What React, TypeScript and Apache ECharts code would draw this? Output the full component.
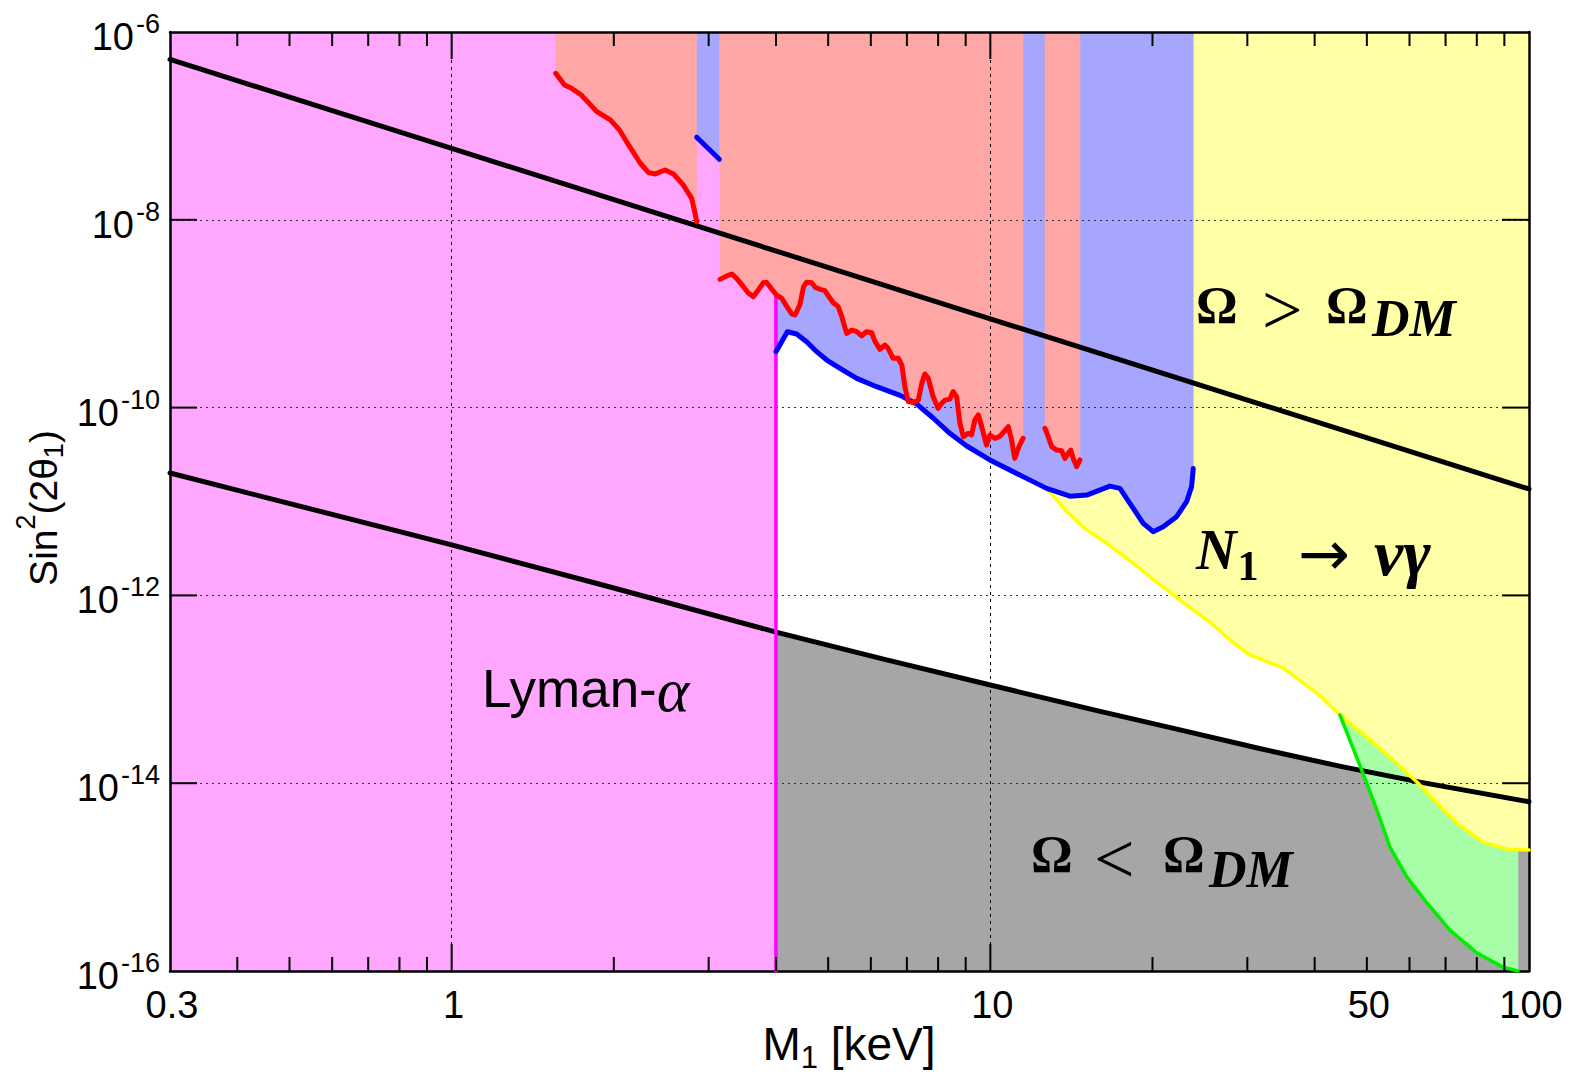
import React, { useEffect, useRef } from 'react';
import * as echarts from 'echarts';

// ---------- axis ranges ----------
const X_MIN = 0.3;
const X_MAX = 100;
const Y_MIN = 1e-16;
const Y_MAX = 1e-6;
const LYMAN_LIMIT = 4; // keV

// ---------- ticks / labels ----------
const xMinorTicks = [0.4, 0.5, 0.6, 0.7, 0.8, 0.9, 2, 3, 4, 5, 6, 7, 8, 9, 20, 30, 40, 50, 60, 70, 80, 90];
const xMajorTicks = [1, 10];
const yMajorTicks = [1e-14, 1e-12, 1e-10, 1e-8];
const xTickLabelValues = [0.3, 1, 10, 50, 100];
const xTickLabels = ['0.3', '1', '10', '50', '100'];
const yTickLabelValues = [1e-16, 1e-14, 1e-12, 1e-10, 1e-8, 1e-6];
const yTickExponents = ['-16', '-14', '-12', '-10', '-8', '-6'];

// ---------- curves [M1 keV, sin^2(2theta)] ----------
const redA = [
  [1.56, 3.63e-7], [1.62, 2.73e-7], [1.67, 2.51e-7], [1.74, 2.13e-7], [1.86, 1.42e-7], [1.97, 1.16e-7],
  [2.05, 9.0e-8], [2.14, 6.0e-8], [2.24, 4.0e-8], [2.32, 3.18e-8], [2.39, 3.08e-8], [2.49, 3.39e-8],
  [2.58, 3.08e-8], [2.69, 2.35e-8], [2.79, 1.69e-8], [2.83, 1.17e-8], [2.85, 9.5e-9],
];
const blueSegment = [[2.85, 7.57e-8], [3.14, 4.41e-8]];
const redB = [
  [3.15, 2.32e-9], [3.24, 2.52e-9], [3.31, 2.65e-9], [3.38, 2.38e-9], [3.48, 1.94e-9], [3.55, 1.67e-9],
  [3.63, 1.52e-9], [3.71, 1.79e-9], [3.79, 2.14e-9], [3.84, 2.16e-9], [3.93, 1.82e-9], [4.01, 1.58e-9],
  [4.10, 1.46e-9], [4.19, 1.19e-9], [4.28, 9.93e-10], [4.34, 9.68e-10], [4.43, 1.24e-9], [4.50, 1.94e-9],
  [4.56, 2.16e-9], [4.66, 2.14e-9], [4.73, 1.91e-9], [4.83, 1.82e-9], [4.93, 1.76e-9], [5.04, 1.46e-9],
  [5.11, 1.31e-9], [5.22, 1.19e-9], [5.30, 9.29e-10], [5.41, 6.18e-10], [5.53, 6.70e-10], [5.65, 6.43e-10],
  [5.77, 5.79e-10], [5.89, 6.43e-10], [6.02, 6.28e-10], [6.11, 5.03e-10], [6.24, 4.18e-10], [6.37, 4.64e-10],
  [6.46, 4.28e-10], [6.60, 3.35e-10], [6.75, 3.35e-10], [6.85, 2.84e-10], [6.94, 1.67e-10], [7.04, 1.16e-10],
  [7.19, 1.13e-10], [7.35, 1.20e-10], [7.46, 1.81e-10], [7.56, 2.28e-10], [7.67, 2.05e-10], [7.83, 1.31e-10],
  [8.00, 9.82e-11], [8.12, 1.11e-10], [8.24, 1.20e-10], [8.41, 1.23e-10], [8.53, 1.48e-10], [8.66, 1.31e-10],
  [8.78, 6.80e-11], [8.91, 4.90e-11], [9.10, 5.32e-11], [9.23, 5.11e-11], [9.36, 7.38e-11], [9.50, 8.34e-11],
  [9.64, 6.25e-11], [9.84, 3.99e-11], [9.98, 5.11e-11], [10.2, 4.71e-11], [10.4, 4.90e-11], [10.6, 5.53e-11],
  [10.8, 6.25e-11], [10.95, 4.52e-11], [11.1, 2.88e-11], [11.3, 3.83e-11], [11.5, 4.71e-11],
];
const redC = [
  [12.63, 6.01e-11], [12.81, 4.90e-11], [13.0, 3.83e-11], [13.28, 3.53e-11], [13.56, 3.47e-11], [13.76, 2.88e-11],
  [13.95, 3.26e-11], [14.1, 3.53e-11], [14.25, 2.88e-11], [14.46, 2.35e-11], [14.67, 2.77e-11],
];
const blueCurve = [
  [4.0, 3.94e-10], [4.2, 6.43e-10], [4.37, 6.08e-10], [4.56, 5.03e-10], [4.76, 3.94e-10], [4.97, 3.21e-10],
  [5.26, 2.62e-10], [5.65, 2.05e-10], [6.15, 1.67e-10], [6.8, 1.35e-10], [7.3, 1.09e-10], [7.83, 7.75e-11],
  [8.41, 5.32e-11], [9.04, 3.90e-11], [9.98, 2.77e-11], [11.5, 1.84e-11], [12.72, 1.38e-11], [14.05, 1.14e-11],
  [15.1, 1.17e-11], [16.67, 1.46e-11], [17.4, 1.38e-11], [18.16, 9.57e-12], [19.22, 5.86e-12], [20.06, 4.77e-12],
  [20.94, 5.39e-12], [22.17, 6.89e-12], [23.14, 9.95e-12], [23.64, 1.44e-11], [23.81, 2.25e-11],
];
const yellowCurve = [
  [12.72, 1.38e-11], [13.86, 7.79e-12], [15.1, 4.97e-12], [16.44, 3.59e-12], [18.42, 2.20e-12], [20.06, 1.48e-12],
  [22.49, 8.93e-13], [25.56, 5.20e-13], [27.85, 3.35e-13], [30.33, 2.32e-13], [34.93, 1.69e-13], [40.39, 9.12e-14],
  [44.57, 5.32e-14], [50.0, 3.10e-14], [55.9, 1.77e-14], [61.93, 1.03e-14], [67.45, 6.15e-15], [73.48, 3.77e-15],
  [82.12, 2.36e-15], [91.0, 1.99e-15], [95.4, 1.97e-15], [100, 1.94e-15],
];
const greenCurve = [
  [44.57, 5.32e-14], [46.5, 2.88e-14], [49.16, 1.28e-14], [52.2, 5.18e-15], [55.19, 2.09e-15], [59.34, 1.0e-15],
  [64.65, 5.3e-16], [71.31, 2.73e-16], [80.06, 1.55e-16], [89.45, 1.10e-16], [95.4, 1.0e-16],
];
const upperBlack = [[0.3, 5.1e-7], [1, 5.77e-8], [10, 8.83e-10], [100, 1.36e-11]];
const lowerBlack = [
  [0.3, 2.01e-11], [1, 3.45e-12], [2, 1.2e-12], [4, 4.07e-13], [6.31, 2.11e-13], [10, 1.11e-13],
  [15.85, 5.89e-14], [22.4, 3.72e-14], [31.6, 2.34e-14], [44.7, 1.51e-14], [63.1, 1.02e-14], [100, 6.35e-15],
];
const magentaLine = [[4, 1e-16], [4, 1.55e-9]];

// ---------- styles ----------
const SANS = '"Liberation Sans", Arial, Helvetica, sans-serif';
const SERIF = '"Liberation Serif", "Times New Roman", serif';
const C = {
  pink: '#FFA6FF', red: '#FFA6A6', blue: '#A6A6FF', yellow: '#FFFFA6', green: '#A6FFA6', grey: '#A6A6A6',
};

let measureCtx: CanvasRenderingContext2D | null = null;
function measure(text: string, size: number, family: string, weight = 'normal', style = 'normal') {
  if (!measureCtx) measureCtx = document.createElement('canvas').getContext('2d');
  if (!measureCtx) return text.length * size * 0.55;
  measureCtx.font = `${style} ${weight} ${size}px ${family}`;
  return measureCtx.measureText(text).width;
}

const above = (c: number[][]) => [[c[0][0], Y_MAX], ...c, [c[c.length - 1][0], Y_MAX]];

function tText(x: number, y: number, text: string, font: any, align = 'left') {
  return {
    type: 'text', x, y, silent: true, z: 20,
    style: {
      text, fill: '#000', align, verticalAlign: 'middle', textAlign: align, textVerticalAlign: 'middle',
      ...font,
    },
  };
}

// lays out a run of [text, size, dy, family, weight, style] pieces (local coordinates)
function run(pieces: any[], centre = true) {
  const widths = pieces.map((p) => measure(p[0], p[1], p[3], p[4] || 'normal', p[5] || 'normal'));
  const total = widths.reduce((a, b) => a + b, 0);
  let x = centre ? -total / 2 : 0;
  return pieces.map((p, i) => {
    const el = tText(x, p[2], p[0], {
      fontSize: p[1], fontFamily: p[3], fontWeight: p[4] || 'normal', fontStyle: p[5] || 'normal',
    });
    x += widths[i];
    return el;
  });
}

function buildOption() {
  const gStart = greenCurve[0][0];
  const gEnd = greenCurve[greenCurve.length - 1][0];
  const regions = [
    { fill: C.pink, pts: [[X_MIN, Y_MIN], [LYMAN_LIMIT, Y_MIN], [LYMAN_LIMIT, Y_MAX], [X_MIN, Y_MAX]] },
    { fill: C.grey, pts: [[LYMAN_LIMIT, Y_MIN], ...lowerBlack.filter((p) => p[0] >= LYMAN_LIMIT), [X_MAX, Y_MIN]] },
    { fill: C.yellow, pts: above(yellowCurve) },
    {
      fill: C.green,
      pts: [...yellowCurve.filter((p) => p[0] >= gStart && p[0] <= gEnd), ...greenCurve.slice().reverse()],
    },
    { fill: C.blue, pts: above(blueSegment) },
    { fill: C.blue, pts: above(blueCurve) },
    { fill: C.red, pts: above(redA) },
    { fill: C.red, pts: above(redB) },
    { fill: C.red, pts: above(redC) },
  ];

  const line = (data: number[][], color: string, width: number) => ({
    type: 'line', data, showSymbol: false, symbol: 'none', silent: true, z: 6,
    lineStyle: { color, width, cap: 'round', join: 'round' },
  });

  const xTick = (len: number) => (params: any, api: any) => {
    const v = api.value(0);
    const b = api.coord([v, Y_MIN]);
    const t = api.coord([v, Y_MAX]);
    return {
      type: 'group',
      children: [
        { type: 'line', shape: { x1: b[0], y1: b[1], x2: b[0], y2: b[1] - len }, style: { stroke: '#000', lineWidth: 2 } },
        { type: 'line', shape: { x1: t[0], y1: t[1], x2: t[0], y2: t[1] + len }, style: { stroke: '#000', lineWidth: 2 } },
      ],
    };
  };
  const yTick = (len: number) => (params: any, api: any) => {
    const v = api.value(1);
    const l = api.coord([X_MIN, v]);
    const r = api.coord([X_MAX, v]);
    return {
      type: 'group',
      children: [
        { type: 'line', shape: { x1: l[0], y1: l[1], x2: l[0] + len, y2: l[1] }, style: { stroke: '#000', lineWidth: 2 } },
        { type: 'line', shape: { x1: r[0], y1: r[1], x2: r[0] - len, y2: r[1] }, style: { stroke: '#000', lineWidth: 2 } },
      ],
    };
  };

  const axisLine = { show: true, onZero: false, lineStyle: { color: '#000', width: 2.5 } };
  const dotted = { show: true, lineStyle: { color: '#333', width: 1, type: [2, 4] } };

  const omega = { fontFamily: SERIF, fontWeight: 'bold', fontSize: 52 };
  const rel = { fontFamily: SERIF, fontSize: 72 };
  const dm = { fontFamily: SERIF, fontWeight: 'bold', fontStyle: 'italic', fontSize: 52 };
  const nFont = { fontFamily: SERIF, fontWeight: 'bold', fontStyle: 'italic', fontSize: 56 };
  const nWidth = measure('N', 56, SERIF, 'bold', 'italic');

  return {
    animation: false,
    backgroundColor: '#fff',
    grid: { left: 170, top: 32, width: 1359, height: 939, containLabel: false, outerBoundsMode: 'none' },
    xAxis: [
      {
        type: 'log', logBase: 10, min: X_MIN, max: X_MAX, position: 'bottom', z: 5,
        axisLine, axisTick: { show: false }, axisLabel: { show: false },
        splitLine: { show: true, lineStyle: { color: '#000', width: 1, type: [3, 4] } },
      },
      {
        type: 'log', logBase: 10, min: X_MIN, max: X_MAX, position: 'top', z: 5,
        axisLine, axisTick: { show: false }, axisLabel: { show: false }, splitLine: { show: false },
      },
    ],
    yAxis: [
      {
        type: 'log', logBase: 100, min: Y_MIN, max: Y_MAX, position: 'left', z: 5,
        axisLine, axisTick: { show: false }, axisLabel: { show: false }, splitLine: dotted,
      },
      {
        type: 'log', logBase: 100, min: Y_MIN, max: Y_MAX, position: 'right', z: 5,
        axisLine, axisTick: { show: false }, axisLabel: { show: false }, splitLine: { show: false },
      },
    ],
    series: [
      {
        type: 'custom', name: 'regions', coordinateSystem: 'cartesian2d', silent: true, z: 1, clip: true,
        data: regions.map((r) => r.pts[0]),
        renderItem: (params: any, api: any) => {
          const r = regions[params.dataIndex];
          return {
            type: 'polygon', z2: params.dataIndex,
            shape: { points: r.pts.map((p) => api.coord(p)) },
            style: { fill: r.fill, stroke: r.fill, lineWidth: 0.5 },
          };
        },
      },
      line(upperBlack, '#000', 5),
      line(lowerBlack, '#000', 5),
      line(magentaLine, '#FF00FF', 3.5),
      line(yellowCurve, '#FFFF00', 3.5),
      line(greenCurve, '#00EE00', 3.5),
      line(blueSegment, '#0000FF', 5),
      line(blueCurve, '#0000FF', 5),
      line(redA, '#FF0000', 5),
      line(redB, '#FF0000', 5),
      line(redC, '#FF0000', 5),
      {
        type: 'custom', name: 'xMinorTicks', coordinateSystem: 'cartesian2d', silent: true, z: 7, clip: false,
        data: xMinorTicks.map((v) => [v, Y_MIN]), renderItem: xTick(14),
      },
      {
        type: 'custom', name: 'xMajorTicks', coordinateSystem: 'cartesian2d', silent: true, z: 7, clip: false,
        data: xMajorTicks.map((v) => [v, Y_MIN]), renderItem: xTick(27),
      },
      {
        type: 'custom', name: 'yMajorTicks', coordinateSystem: 'cartesian2d', silent: true, z: 7, clip: false,
        data: yMajorTicks.map((v) => [X_MIN, v]), renderItem: yTick(27),
      },
      {
        type: 'custom', name: 'xTickLabels', coordinateSystem: 'cartesian2d', silent: true, z: 7, clip: false,
        data: xTickLabelValues.map((v) => [v, Y_MIN]),
        renderItem: (params: any, api: any) => {
          const p = api.coord([api.value(0), Y_MIN]);
          return tText(p[0] + 2, p[1] + 34, xTickLabels[params.dataIndex], { fontSize: 38, fontFamily: SANS }, 'center');
        },
      },
      {
        type: 'custom', name: 'yTickLabels', coordinateSystem: 'cartesian2d', silent: true, z: 7, clip: false,
        data: yTickLabelValues.map((v) => [X_MIN, v]),
        renderItem: (params: any, api: any) => {
          const p = api.coord([X_MIN, api.value(1)]);
          const exp = yTickExponents[params.dataIndex];
          const right = p[0] - 10;
          const ew = measure(exp, 27, SANS);
          return {
            type: 'group',
            children: [
              tText(right, p[1] - 8, exp, { fontSize: 27, fontFamily: SANS }, 'right'),
              tText(right - ew - 2, p[1] + 5, '10', { fontSize: 38, fontFamily: SANS }, 'right'),
            ],
          };
        },
      },
    ],
    graphic: [
      {
        type: 'group', x: 43, y: 508, rotation: Math.PI / 2, silent: true,
        children: run([
          ['Sin', 39, 0, SANS],
          ['2', 27, -17, SANS],
          ['(2θ', 39, 0, SANS],
          ['1', 27, 11, SANS],
          [')', 39, 0, SANS],
        ]),
      },
      {
        type: 'group', x: 849, y: 1044, silent: true,
        children: run([
          ['M', 46, 0, SANS],
          ['1', 31, 13, SANS],
          [' [keV]', 46, 0, SANS],
        ]),
      },
      {
        type: 'group', x: 482, y: 688, silent: true,
        children: run([
          ['Lyman-', 53, 0, SANS],
          ['α', 62, 2, SERIF, 'normal', 'italic'],
        ], false),
      },
      // Omega > Omega_DM
      tText(1196, 305, 'Ω', omega),
      tText(1262, 310, '>', rel),
      tText(1326, 305, 'Ω', omega),
      tText(1372, 318, 'DM', dm),
      // N1 -> nu gamma
      tText(1196, 550, 'N', nFont),
      tText(1196 + nWidth + 1, 566, '1', { fontFamily: SERIF, fontWeight: 'bold', fontSize: 42 }),
      tText(1298, 553, '→', { fontFamily: '"DejaVu Sans", sans-serif', fontSize: 62 }),
      tText(1374, 552, 'νγ', { fontFamily: SERIF, fontWeight: 'bold', fontStyle: 'italic', fontSize: 66 }),
      // Omega < Omega_DM
      tText(1031, 854, 'Ω', omega),
      tText(1094, 859, '<', rel),
      tText(1163, 854, 'Ω', omega),
      tText(1209, 869, 'DM', dm),
    ],
  };
}

export default function App() {
  const ref = useRef<HTMLDivElement>(null);
  useEffect(() => {
    if (!ref.current) return;
    const chart = echarts.init(ref.current, undefined, { renderer: 'svg' });
    chart.setOption(buildOption() as any);
    return () => chart.dispose();
  }, []);
  return (
    <div
      ref={ref}
      style={{ position: 'absolute', left: 0, top: 0, width: 1578, height: 1074, background: '#fff' }}
    />
  );
}
